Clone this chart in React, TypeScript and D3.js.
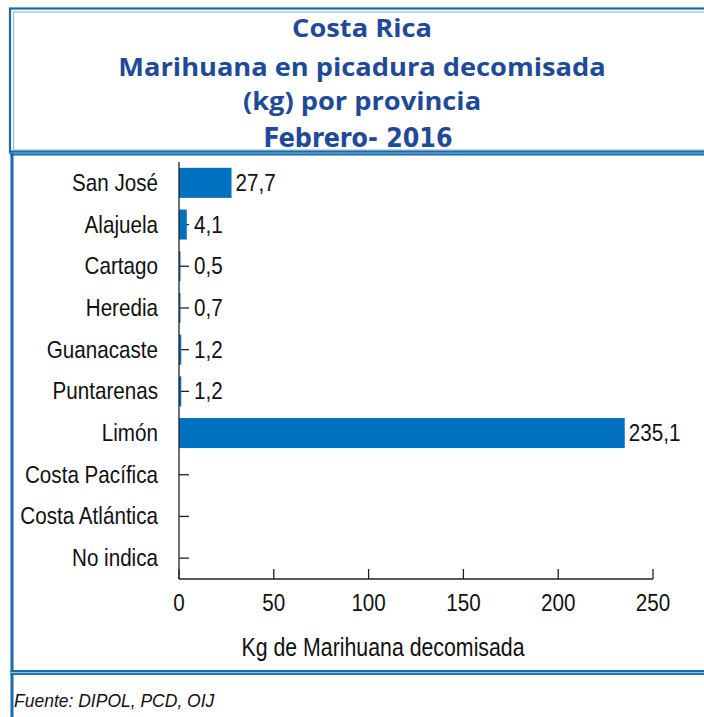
import React from "react";
import * as d3 from "d3";

const categories = ["San José", "Alajuela", "Cartago", "Heredia", "Guanacaste", "Puntarenas", "Limón", "Costa Pacífica", "Costa Atlántica", "No indica"];
const values: (number | null)[] = [27.7, 4.1, 0.5, 0.7, 1.2, 1.2, 235.1, null, null, null];
const xTicks = [0, 50, 100, 150, 200, 250];
const titleLines = ["Costa Rica", "Marihuana en picadura decomisada", "(kg) por provincia", "Febrero- 2016"];
const xAxisTitle = "Kg de Marihuana decomisada";
const sourceText = "Fuente: DIPOL, PCD, OIJ";

const W = 704;
const H = 717;
const DARK = "#1a6aaa";
const LIGHT = "#8cc0e0";
const BAR = "#0070c0";
const TITLE = "#1f4a99";
const SANS = "'Liberation Sans', Arial, sans-serif";

function SText(props: { x: number; y: number; sx: number; anchor?: string; size: number; family: string; weight?: string; fill: string; children: React.ReactNode; italic?: boolean }) {
  const { x, y, sx, anchor, size, family, weight, fill, children, italic } = props;
  return (
    <text transform={`translate(${x},${y}) scale(${sx},1)`} textAnchor={anchor || "start"} dominantBaseline="central"
      fontFamily={family} fontWeight={weight || "normal"} fontStyle={italic ? "italic" : "normal"} fontSize={size} fill={fill}>
      {children}
    </text>
  );
}

export default function App() {
  const x = d3.scaleLinear().domain([0, 250]).range([179, 653]);
  const y = d3.scaleBand<string>().domain(categories).range([162, 579]).paddingInner(0.28).paddingOuter(0.14);
  const fmt = (v: number) => d3.format(".1f")(v).replace(".", ",");
  const titleY = [27, 66.5, 100.5, 137];
  const cy = (c: string) => y(c)! + y.bandwidth() / 2;

  return (
    <svg width={W} height={H} style={{ position: "absolute", left: 0, top: 0, background: "#fff" }}>
      {/* title box */}
      <rect x={10} y={8.5} width={720} height={144} fill="none" stroke={DARK} strokeWidth={2.2} />
      <rect x={13.5} y={12} width={720} height={138} fill="none" stroke={LIGHT} strokeWidth={1.2} />
      <rect x={10} y={150.5} width={720} height={5} fill={DARK} />
      <rect x={10} y={152.6} width={720} height={1} fill={LIGHT} />
      {/* left panel line */}
      <rect x={10.5} y={153} width={3} height={H - 153} fill={DARK} />
      {/* footer separator */}
      <rect x={10.5} y={670} width={720} height={5} fill={DARK} />
      <rect x={10.5} y={672} width={720} height={1.2} fill={LIGHT} />

      {titleLines.map((t, i) =>
        i < 3 ? (
          <SText key={t} x={362} y={titleY[i]} sx={1.09} anchor="middle" size={25} family="'Open Sans', sans-serif" weight="bold" fill={TITLE}>{t}</SText>
        ) : (
          <SText key={t} x={358} y={titleY[i]} sx={1.0} anchor="middle" size={26.5} family="'DejaVu Sans Condensed', sans-serif" weight="bold" fill={TITLE}>{t}</SText>
        )
      )}

      {/* y ticks */}
      {categories.map((c) => (
        <line key={"t" + c} x1={x(0)} x2={x(0) + 10} y1={cy(c)} y2={cy(c)} stroke="#222" strokeWidth={1.3} />
      ))}
      {/* bars */}
      {categories.map((c, i) => {
        const v = values[i];
        if (v == null) return null;
        return <rect key={"b" + c} x={x(0)} y={y(c)!} width={Math.max(x(v) - x(0), 1.5)} height={y.bandwidth()} fill={BAR} />;
      })}
      {categories.map((c, i) => {
        const v = values[i];
        if (v == null) return null;
        const endX = Math.max(x(v), x(0) + 11);
        return (
          <SText key={"v" + c} x={endX + 4} y={cy(c)} sx={0.86} size={24} family={SANS} fill="#111">{fmt(v)}</SText>
        );
      })}
      {/* category labels */}
      {categories.map((c) => (
        <SText key={"l" + c} x={158} y={cy(c)} sx={0.86} anchor="end" size={24} family={SANS} fill="#111">{c}</SText>
      ))}
      {/* axes */}
      <line x1={x(0)} x2={x(0)} y1={162} y2={579} stroke="#222" strokeWidth={1.3} />
      <line x1={x(0)} x2={x(250)} y1={579} y2={579} stroke="#222" strokeWidth={1.3} />
      {xTicks.map((t) => (
        <g key={"x" + t}>
          <line x1={x(t)} x2={x(t)} y1={579} y2={569} stroke="#222" strokeWidth={1.3} />
          <SText x={x(t)} y={603} sx={0.86} anchor="middle" size={24} family={SANS} fill="#111">{t}</SText>
        </g>
      ))}
      <SText x={383} y={647} sx={0.82} anchor="middle" size={26} family={SANS} fill="#111">{xAxisTitle}</SText>
      <SText x={14} y={701} sx={1} size={17.5} family={SANS} italic fill="#111">{sourceText}</SText>
    </svg>
  );
}
